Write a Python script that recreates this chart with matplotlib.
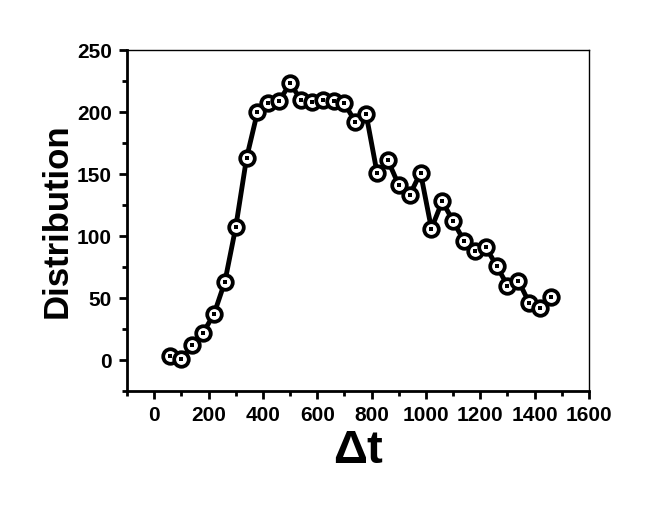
import numpy as np
import matplotlib
matplotlib.use("Agg")
import matplotlib.pyplot as plt
from matplotlib.ticker import MultipleLocator

plt.rcParams['font.family'] = ['Liberation Sans', 'DejaVu Sans']
plt.rcParams['font.weight'] = 'bold'

dt = [60, 100, 140, 180, 220, 260, 300, 340, 380, 420, 460, 500, 540, 580,
      620, 660, 700, 740, 780, 820, 860, 900, 940, 980, 1020, 1060, 1100,
      1140, 1180, 1220, 1260, 1300, 1340, 1380, 1420, 1460]
dist = [3.5, 1, 12, 22, 37, 63, 107, 163, 200, 207, 209, 223, 210, 208,
        210, 209, 207, 192, 198, 151, 161, 141, 133, 151, 106, 128, 112,
        96, 88, 91, 76, 60, 64, 46, 42, 51]

fig = plt.figure(figsize=(6.48, 5.21), dpi=100)
ax = fig.add_axes([0.196, 0.2495, 0.713, 0.6545])

ax.plot(dt, dist, color='black', lw=3.5, zorder=1)
ax.plot(dt, dist, 'o', ms=10.5, mfc='white', mec='black', mew=2.7, zorder=2)
ax.plot(dt, dist, 's', ms=2.2, mfc='black', mec='black', mew=0, zorder=3)

ax.set_xlim(-100, 1600)
ax.set_ylim(-25, 250)
ax.xaxis.set_major_locator(MultipleLocator(200))
ax.xaxis.set_minor_locator(MultipleLocator(100))
ax.yaxis.set_major_locator(MultipleLocator(50))
ax.yaxis.set_minor_locator(MultipleLocator(25))

for s in ['left', 'bottom']:
    ax.spines[s].set_linewidth(2)
for s in ['top', 'right']:
    ax.spines[s].set_linewidth(1)

ax.tick_params(which='major', direction='out', length=6, width=2,
               labelsize=15, pad=5, top=False, right=False)
ax.tick_params(which='minor', direction='out', length=3.5, width=2,
               top=False, right=False)
for lab in ax.get_xticklabels() + ax.get_yticklabels():
    lab.set_fontweight('bold')

ax.set_xlabel('Δt', fontsize=34, fontweight='bold', labelpad=3)
ax.set_ylabel('Distribution', fontsize=25, fontweight='bold', labelpad=2)

plt.savefig('out.png', dpi=100)
